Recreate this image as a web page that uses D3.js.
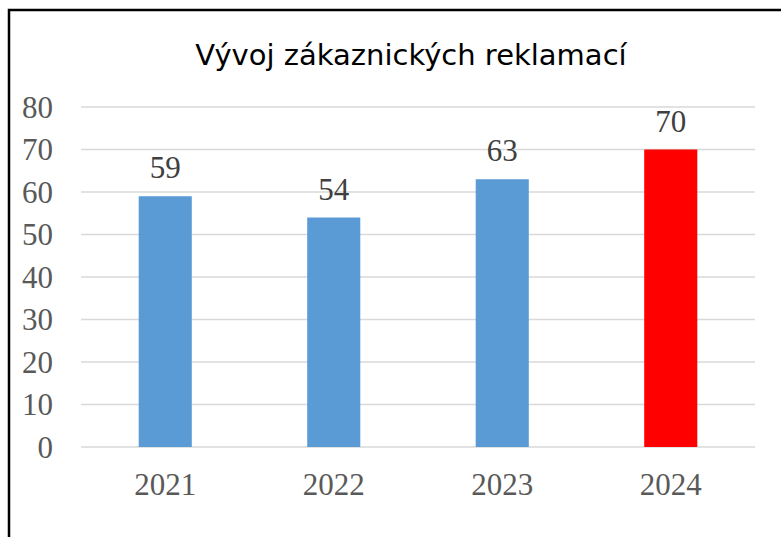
<!DOCTYPE html>
<html>
<head>
<meta charset="utf-8">
<script src="https://cdn.jsdelivr.net/npm/d3@7"></script>
<style>
  body { margin: 0; background: #fff; }
  svg { display: block; }
</style>
</head>
<body>
<div id="chart"></div>
<script>
const years = ['2021', '2022', '2023', '2024'];
const complaints = [59, 54, 63, 70];
const barColors = ['#5b9bd5', '#5b9bd5', '#5b9bd5', '#ff0000'];
const yTicks = [0, 10, 20, 30, 40, 50, 60, 70, 80];
const title = 'Vývoj zákaznických reklamací';

const chart = () => {
  const width = 781;
  const height = 537;
  const margin = { top: 107, right: 26, bottom: 90, left: 81 };

  const svg = d3.select('#chart')
    .append('svg')
    .attr('width', width)
    .attr('height', height);

  // outer frame (only left and top edges visible in the window)
  svg.append('rect')
    .attr('x', 9)
    .attr('y', 10)
    .attr('width', 800)
    .attr('height', 600)
    .attr('fill', 'none')
    .attr('stroke', '#000')
    .attr('stroke-width', 2.5);

  const x = d3.scaleBand()
    .domain(years)
    .range([margin.left, width - margin.right])
    .padding(0);

  const y = d3.scaleLinear()
    .domain([0, 80])
    .range([height - margin.bottom, margin.top]);

  const barWidth = x.bandwidth() * 0.315;
  const serif = '"Liberation Serif", "Times New Roman", serif';

  svg.append('g')
    .selectAll('line')
    .data(yTicks)
    .join('line')
    .attr('x1', margin.left)
    .attr('x2', width - margin.right)
    .attr('y1', d => y(d))
    .attr('y2', d => y(d))
    .attr('stroke', '#d9d9d9')
    .attr('stroke-width', 1.5);

  svg.append('g')
    .selectAll('text')
    .data(yTicks)
    .join('text')
    .attr('x', 53)
    .attr('y', d => y(d) + 10.5)
    .attr('text-anchor', 'end')
    .attr('font-family', serif)
    .attr('font-size', 31)
    .attr('fill', '#595959')
    .text(d => d);

  svg.append('g')
    .selectAll('rect')
    .data(complaints)
    .join('rect')
    .attr('x', (d, i) => x(years[i]) + (x.bandwidth() - barWidth) / 2)
    .attr('y', d => y(d))
    .attr('width', barWidth)
    .attr('height', d => y(0) - y(d))
    .attr('fill', (d, i) => barColors[i]);

  svg.append('g')
    .selectAll('text')
    .data(complaints)
    .join('text')
    .attr('x', (d, i) => x(years[i]) + x.bandwidth() / 2)
    .attr('y', d => y(d) - 18)
    .attr('text-anchor', 'middle')
    .attr('font-family', serif)
    .attr('font-size', 31)
    .attr('fill', '#404040')
    .text(d => d);

  svg.append('g')
    .selectAll('text')
    .data(years)
    .join('text')
    .attr('x', d => x(d) + x.bandwidth() / 2)
    .attr('y', y(0) + 48)
    .attr('text-anchor', 'middle')
    .attr('font-family', serif)
    .attr('font-size', 31)
    .attr('fill', '#595959')
    .text(d => d);

  svg.append('text')
    .attr('x', 411)
    .attr('y', 65)
    .attr('text-anchor', 'middle')
    .attr('font-family', '"DejaVu Sans", Verdana, sans-serif')
    .attr('font-size', 29)
    .attr('fill', '#000')
    .text(title);
};

chart();
</script>
</body>
</html>
